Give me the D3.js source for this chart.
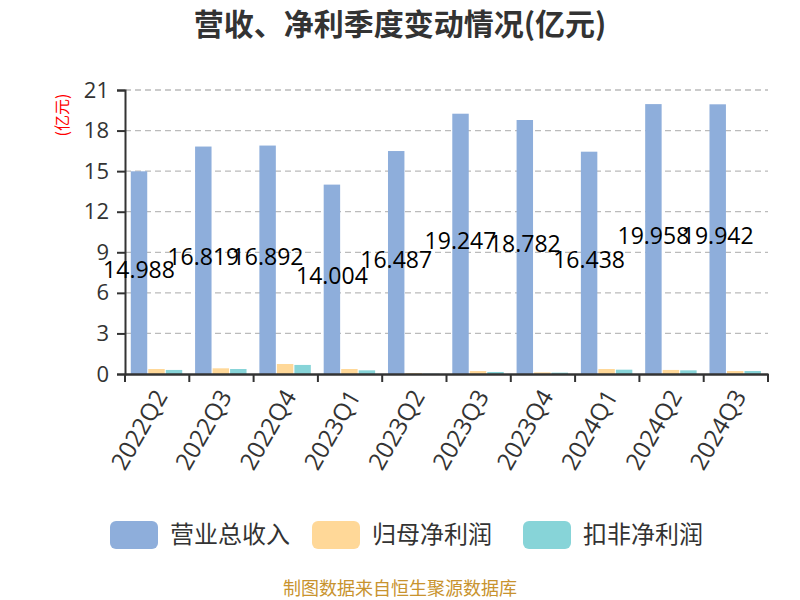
<!DOCTYPE html>
<html><head><meta charset="utf-8">
<script src="https://cdn.jsdelivr.net/npm/d3@7"></script>
<style>body{margin:0;background:#fff;}svg{display:block;font-family:"Open Sans","Noto Sans CJK SC",sans-serif;}</style>
</head><body>
<svg id="c" width="800" height="600"></svg>
<script>
const categories = ["2022Q2","2022Q3","2022Q4","2023Q1","2023Q2","2023Q3","2023Q4","2024Q1","2024Q2","2024Q3"];
const revenue = [14.988,16.819,16.892,14.004,16.487,19.247,18.782,16.438,19.958,19.942];
const netProfit = [0.37,0.42,0.74,0.37,0.07,0.22,0.12,0.37,0.30,0.22];
const deductedProfit = [0.30,0.37,0.67,0.27,0.02,0.15,0.10,0.32,0.27,0.22];
const seriesNames = ["营业总收入","归母净利润","扣非净利润"];
const colors = ["#8eaedb","#ffd898","#87d4d8"];
const yTicks = [0,3,6,9,12,15,18,21];

const svg = d3.select("#c");
const L = 125, R = 768, T = 90, B = 374;
const x = d3.scaleBand().domain(categories).range([L, R]).paddingInner(0).paddingOuter(0);
const y = d3.scaleLinear().domain([0, 21]).range([B, T]);
const bw = x.bandwidth();
const xs = d3.scaleBand().domain([0,1,2]).range([bw*0.09, bw*0.89]).paddingInner(0.06);

// title
svg.append("text").attr("x", 400).attr("y", 35).attr("text-anchor","middle")
  .attr("font-family","Noto Sans CJK SC")
  .attr("font-size", 30).attr("font-weight","bold").attr("fill","#333").text("营收、净利季度变动情况(亿元)");

// grid
svg.append("g").selectAll("line").data(yTicks.filter(d=>d>0)).join("line")
  .attr("x1", L).attr("x2", R).attr("y1", d=>y(d)).attr("y2", d=>y(d))
  .attr("stroke","#bbb").attr("stroke-dasharray","6,4").attr("stroke-width",1.3);

// y axis
const ya = svg.append("g").attr("transform",`translate(${L},0)`)
  .call(d3.axisLeft(y).tickValues(yTicks).tickSize(8).tickPadding(8));
ya.select(".domain").attr("stroke","#333").attr("stroke-width",2);
ya.selectAll(".tick line").attr("stroke","#333").attr("stroke-width",2);
ya.selectAll("text").attr("font-size",22).attr("fill","#333").attr("font-family","Open Sans");

// y label
svg.append("text").attr("transform","translate(68,115) rotate(-90)").attr("text-anchor","middle")
  .attr("font-family","Noto Sans CJK SC")
  .attr("font-size",16).attr("fill","red").text("(亿元)");

// bars
const seriesData = [revenue, netProfit, deductedProfit];
seriesData.forEach((arr, si) => {
  svg.append("g").selectAll("rect").data(arr).join("rect")
    .attr("x", (d,i)=> x(categories[i]) + xs(si))
    .attr("width", xs.bandwidth())
    .attr("y", d=> y(d))
    .attr("height", d=> B - y(d))
    .attr("fill", colors[si]);
});

// x axis
const xa = svg.append("g").attr("transform",`translate(0,${B})`)
  .call(d3.axisBottom(x).tickSize(0).tickPadding(0));
xa.select(".domain").attr("stroke","#333").attr("stroke-width",2.5);
xa.selectAll(".tick line").remove();
const bounds = categories.map(c=>x(c)).concat([R]);
xa.append("g").selectAll("line").data(bounds).join("line")
  .attr("x1",d=>d).attr("x2",d=>d).attr("y1",0).attr("y2",8).attr("stroke","#333").attr("stroke-width",2);
xa.selectAll(".tick text").attr("font-size",24).attr("fill","#333").attr("font-family","Open Sans")
  .attr("text-anchor","end").attr("dy","0.35em")
  .attr("transform","translate(4,18) rotate(-60)");

// value labels
svg.append("g").selectAll("text").data(revenue).join("text")
  .attr("x",(d,i)=> x(categories[i]) + xs(0) + xs.bandwidth()/2)
  .attr("y", d=> (y(d)+B)/2 - 3)
  .attr("dy","0.35em").attr("text-anchor","middle").attr("font-family","Open Sans")
  .attr("font-size",23).attr("fill","#000").text(d=>d3.format(".3f")(d));

// legend
const lx = [110, 312, 523];
seriesNames.forEach((n,i)=>{
  const g = svg.append("g").attr("transform",`translate(${lx[i]},521)`);
  g.append("rect").attr("width",48).attr("height",28).attr("rx",6).attr("fill",colors[i]);
  g.append("text").attr("x",60).attr("y",14).attr("dy","0.35em").attr("font-family","Noto Sans CJK SC")
    .attr("font-size",24).attr("fill","#333").text(n);
});

// footer
svg.append("text").attr("x",400).attr("y",595).attr("text-anchor","middle").attr("font-family","Noto Sans CJK SC")
  .attr("font-size",18).attr("fill","#c8932e").text("制图数据来自恒生聚源数据库");
</script>
</body></html>
